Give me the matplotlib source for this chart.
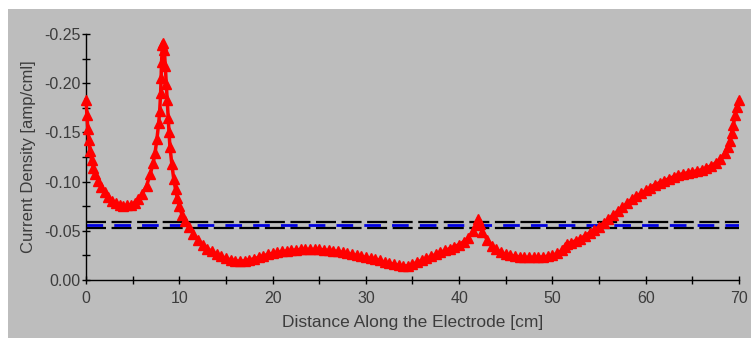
import matplotlib
matplotlib.use("Agg")
import matplotlib.pyplot as plt
from matplotlib.patches import Rectangle
from matplotlib.ticker import MultipleLocator

plt.rcParams["font.family"] = ["Liberation Sans", "DejaVu Sans"]

# Distance along the electrode [cm]
distance_cm = [
    0.0, 0.1, 0.2, 0.3, 0.45, 0.6, 0.8, 1.0, 1.3, 1.6, 2.0, 2.4, 2.8, 3.2, 3.6,
    4.0, 4.4, 4.8, 5.2, 5.6, 6.0, 6.5, 6.9, 7.2, 7.4, 7.6, 7.8, 7.9, 8.0, 8.05,
    8.1, 8.2, 8.3, 8.4, 8.5, 8.6, 8.7, 8.8, 8.9, 9.0, 9.2, 9.4, 9.6, 9.8, 10.0,
    10.3, 10.6, 11.0, 11.5, 12.0, 12.5, 13.0, 13.5, 14.0, 14.5, 15.0, 15.5, 16.0,
    16.5, 17.0, 17.5, 18.0, 18.5, 19.0, 19.5, 20.0, 20.5, 21.0, 21.5, 22.0, 22.5,
    23.0, 23.5, 24.0, 24.5, 25.0, 25.5, 26.0, 26.5, 27.0, 27.5, 28.0, 28.5, 29.0,
    29.5, 30.0, 30.5, 31.0, 31.5, 32.0, 32.5, 33.0, 33.5, 34.0, 34.5, 35.0, 35.5,
    36.0, 36.5, 37.0, 37.5, 38.0, 38.5, 39.0, 39.5, 40.0, 40.5, 41.0, 41.5, 41.8,
    42.0, 42.2, 42.5, 43.0, 43.5, 44.0, 44.5, 45.0, 45.5, 46.0, 46.5, 47.0, 47.5,
    48.0, 48.5, 49.0, 49.5, 50.0, 50.5, 51.0, 51.3, 51.6, 52.0, 52.5, 53.0, 53.5,
    54.0, 54.5, 55.0, 55.5, 56.0, 56.5, 57.0, 57.5, 58.0, 58.5, 59.0, 59.5, 60.0,
    60.5, 61.0, 61.5, 62.0, 62.5, 63.0, 63.5, 64.0, 64.5, 65.0, 65.5, 66.0, 66.5,
    67.0, 67.5, 68.0, 68.5, 68.8, 69.0, 69.2, 69.4, 69.6, 69.8, 70.0,
]

# Current density [amp/cm] along the electrode
current_density = [
    -0.183, -0.168, -0.153, -0.142, -0.131, -0.122, -0.114, -0.108, -0.101,
    -0.095, -0.089, -0.084, -0.080, -0.078, -0.0765, -0.0755, -0.0758, -0.0765,
    -0.0785, -0.082, -0.087, -0.096, -0.108, -0.119, -0.129, -0.143, -0.160,
    -0.172, -0.190, -0.205, -0.222, -0.239, -0.241, -0.234, -0.217, -0.199,
    -0.183, -0.165, -0.150, -0.135, -0.118, -0.103, -0.092, -0.083, -0.075,
    -0.066, -0.060, -0.054, -0.047, -0.041, -0.036, -0.032, -0.029, -0.026,
    -0.024, -0.022, -0.0205, -0.0195, -0.019, -0.0195, -0.0205, -0.0215,
    -0.023, -0.0245, -0.026, -0.027, -0.028, -0.029, -0.0295, -0.030, -0.0305,
    -0.031, -0.031, -0.031, -0.031, -0.031, -0.0305, -0.030, -0.0295, -0.029,
    -0.028, -0.027, -0.026, -0.025, -0.024, -0.023, -0.022, -0.021, -0.020,
    -0.018, -0.017, -0.016, -0.015, -0.014, -0.0145, -0.016, -0.018, -0.020,
    -0.022, -0.024, -0.026, -0.028, -0.030, -0.032, -0.034, -0.036, -0.039,
    -0.043, -0.050, -0.056, -0.062, -0.057, -0.049, -0.041, -0.035, -0.031,
    -0.028, -0.026, -0.025, -0.024, -0.0235, -0.023, -0.023, -0.023, -0.023,
    -0.0235, -0.024, -0.025, -0.027, -0.030, -0.034, -0.037, -0.038, -0.040,
    -0.042, -0.045, -0.048, -0.051, -0.054, -0.058, -0.062, -0.066, -0.070,
    -0.074, -0.078, -0.082, -0.085, -0.088, -0.091, -0.094, -0.097, -0.099,
    -0.101, -0.103, -0.105, -0.107, -0.108, -0.109, -0.110, -0.111, -0.112,
    -0.114, -0.116, -0.119, -0.123, -0.129, -0.135, -0.141, -0.149, -0.158,
    -0.168, -0.176, -0.183,
]

# Reference levels drawn as dashed horizontal lines
upper_limit = -0.0593
mean_level = -0.0562
lower_limit = -0.0532

x_limits = [0, 70]
y_limits = [0.0, -0.25]

panel_gray = "#bdbdbd"
label_gray = "#3c3c3c"

fig = plt.figure(figsize=(7.51, 3.39), dpi=100, facecolor="white")
fig.patches.append(Rectangle((8 / 751, 1 / 339), 1 - 8 / 751, 1 - 10 / 339,
                             transform=fig.transFigure, facecolor=panel_gray,
                             edgecolor="none", zorder=-10))

ax = fig.add_axes([86 / 751, 1 - 280 / 339, (739 - 86) / 751, (280 - 34) / 339])
ax.set_facecolor(panel_gray)

ax.plot(x_limits, [upper_limit, upper_limit], color="black", lw=1.6,
        dashes=(9, 2.5), zorder=2)
ax.plot(x_limits, [lower_limit, lower_limit], color="black", lw=1.6,
        dashes=(9, 2.5), zorder=2)
ax.plot(x_limits, [mean_level, mean_level], color="#0000e0", lw=2.0,
        dashes=(6, 4), zorder=2)

ax.plot(distance_cm, current_density, color="red", lw=2.5, marker="^",
        markersize=7.5, markeredgecolor="red", markerfacecolor="red",
        clip_on=False, zorder=3)

ax.set_xlim(*x_limits)
ax.set_ylim(*y_limits)

ax.xaxis.set_major_locator(MultipleLocator(10))
ax.xaxis.set_minor_locator(MultipleLocator(5))
ax.yaxis.set_major_locator(MultipleLocator(0.05))
ax.yaxis.set_minor_locator(MultipleLocator(0.025))
ax.yaxis.set_major_formatter(plt.FuncFormatter(lambda v, p: f"{v:.2f}"))

for side in ("top", "right"):
    ax.spines[side].set_visible(False)
for side in ("left", "bottom"):
    ax.spines[side].set_color("black")
    ax.spines[side].set_linewidth(1.0)

ax.tick_params(which="both", direction="inout", length=5.5, width=1.0,
               color="black", labelcolor=label_gray, labelsize=11.5)
ax.tick_params(axis="y", pad=1)
ax.tick_params(axis="x", pad=5)

ax.set_xlabel("Distance Along the Electrode [cm]", fontsize=12.5,
              color=label_gray, labelpad=7)
ax.set_ylabel("Current Density [amp/cml]", fontsize=12, color=label_gray,
              labelpad=6)

fig.savefig("out.png", dpi=100, facecolor=fig.get_facecolor())
